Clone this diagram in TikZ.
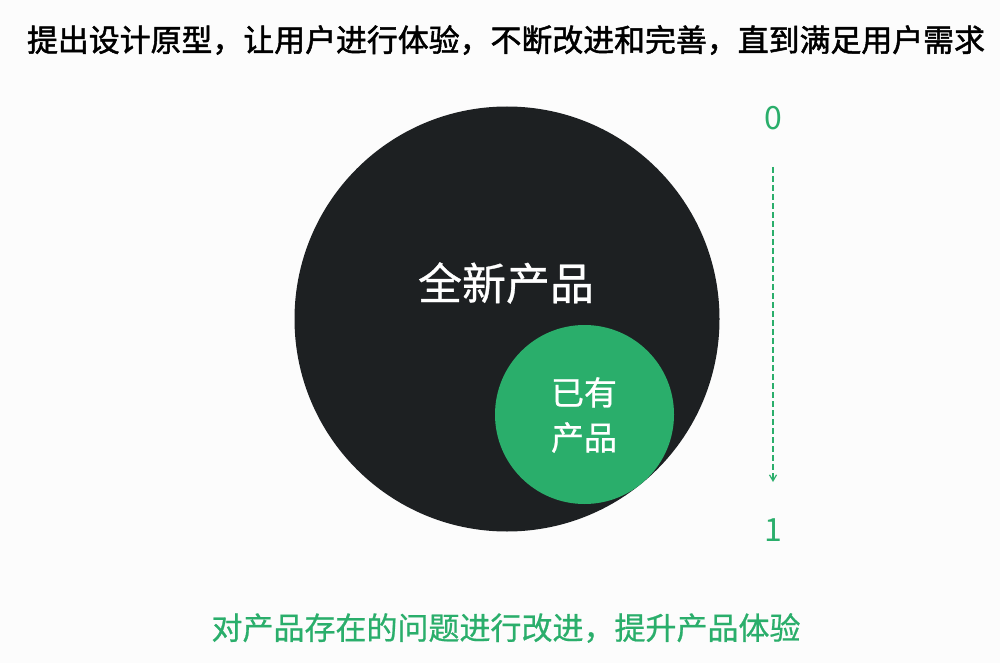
\documentclass[tikz,border=0pt]{standalone}
\usepackage{fontspec}
\usetikzlibrary{arrows.meta}
\newfontfamily\cjk{Noto Sans CJK SC}
\newfontfamily\cjkzhong[FakeBold=0.7]{Noto Sans CJK SC}
\newfontfamily\cjkbold[FakeBold=1.6]{Noto Sans CJK SC}
\definecolor{heise}{HTML}{1D2022}
\definecolor{lvse}{HTML}{2AAE6B}
\definecolor{beijing}{HTML}{FCFCFC}
\begin{document}
\begin{tikzpicture}[x=1pt,y=-1pt]
    \fill[beijing] (0,0) rectangle (1000,663);%背景
    \useasboundingbox (0,0) rectangle (1000,663);
    \node[font={\cjkbold\fontsize{30.9}{30.9}\selectfont},inner sep=0pt] (biaoti) at (506,40) {提出设计原型，让用户进行体验，不断改进和完善，直到满足用户需求};
    \node[circle,fill=heise,inner sep=0pt,minimum size=425pt] (quanxin) at (507,319) {};%大圆
    \node[circle,fill=lvse,inner sep=0pt,minimum size=179pt] (yiyou) at (584.5,414.5) {};%小圆
    \node[white,font={\cjkzhong\fontsize{44}{44}\selectfont},inner sep=0pt] (quanxinwz) at (506,283) {全新产品};
    \node[white,font={\cjkzhong\fontsize{33}{45}\selectfont},align=center,inner sep=0pt] (yiyouwz) at (584,415) {已有\\产品};
    \node[lvse,font={\cjk\fontsize{32}{32}\selectfont},inner sep=0pt] (ling) at (773,118) {0};
    \node[lvse,font={\cjk\fontsize{32}{32}\selectfont},inner sep=0pt] (yi) at (773,530) {1};
    \coordinate (qi) at (773,167);
    \coordinate (zhi) at (773,482);
    \draw[lvse,line width=1.2pt,dash pattern=on 6pt off 3pt,-{Straight Barb[length=6pt,width=7pt]}] (qi) -- (zhi);%虚线箭头
    \node[lvse,font={\cjkzhong\fontsize{31}{31}\selectfont},inner sep=0pt] (dibu) at (506,628) {对产品存在的问题进行改进，提升产品体验};
\end{tikzpicture}
\end{document}
